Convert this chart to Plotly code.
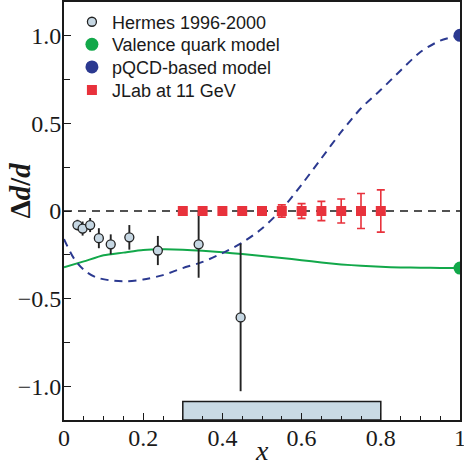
import plotly.graph_objects as go

# Hermes 1996-2000 data
hermes_x = [0.034, 0.047, 0.066, 0.088, 0.118, 0.165, 0.237, 0.340, 0.446]
hermes_y = [-0.08, -0.10, -0.08, -0.155, -0.19, -0.15, -0.225, -0.19, -0.606]
hermes_err = [0.03, 0.04, 0.04, 0.057, 0.057, 0.07, 0.083, 0.19, 0.42]

# JLab at 11 GeV projection
jlab_x = [0.30, 0.35, 0.40, 0.45, 0.50, 0.55, 0.60, 0.65, 0.70, 0.75, 0.80]
jlab_y = [0, 0, 0, 0, 0, 0, 0, 0, 0, 0, 0]
jlab_err = [0.005, 0.006, 0.008, 0.01, 0.018, 0.035, 0.042, 0.055, 0.068, 0.10, 0.12]

# Valence quark model curve
val_x = [0, 0.05, 0.1, 0.15, 0.2, 0.25, 0.3, 0.35, 0.4, 0.45, 0.5, 0.55, 0.6,
         0.65, 0.7, 0.75, 0.8, 0.85, 0.9, 0.95, 1.0]
val_y = [-0.32, -0.287, -0.252, -0.237, -0.222, -0.218, -0.22, -0.226, -0.235,
         -0.245, -0.256, -0.268, -0.28, -0.293, -0.304, -0.312, -0.318, -0.321,
         -0.323, -0.324, -0.325]

# pQCD-based model curve
pqcd_x = [0, 0.025, 0.05, 0.08, 0.12, 0.16, 0.2, 0.25, 0.3, 0.35, 0.4, 0.45,
          0.5, 0.55, 0.6, 0.65, 0.7, 0.75, 0.8, 0.85, 0.9, 0.95, 1.0]
pqcd_y = [-0.16, -0.27, -0.335, -0.377, -0.396, -0.40, -0.39, -0.365, -0.325,
          -0.29, -0.24, -0.18, -0.10, 0.01, 0.15, 0.30, 0.45, 0.585, 0.69,
          0.80, 0.905, 0.97, 1.0]

# kinematic coverage band
coverage_x = [0.3, 0.8]
coverage_top = -1.085

y_range = [-1.19, 1.19]
x_ticks = [0, 0.2, 0.4, 0.6, 0.8, 1]
x_ticktext = ["0", "0.2", "0.4", "0.6", "0.8", "1"]
y_ticks = [-1, -0.5, 0, 0.5, 1]
y_ticktext = ["\u22121.0", "\u22120.5", "0", "0.5", "1.0"]

GREEN = "#12a84a"
BLUE = "#2b3990"
RED = "#e8323c"
HERMES_FILL = "#c6d7e3"
INK = "#1a1a1a"

fig = go.Figure()

fig.add_shape(type="rect", x0=coverage_x[0], x1=coverage_x[1], y0=y_range[0],
              y1=coverage_top, fillcolor="#c9dae4",
              line=dict(color=INK, width=1.5), layer="below")
fig.add_hline(y=0, line=dict(color=INK, width=1.5, dash="8px,6px"),
              layer="below")

fig.add_trace(go.Scatter(x=val_x, y=val_y, mode="lines", showlegend=False,
                         line=dict(color=GREEN, width=2, shape="spline",
                                   smoothing=0.6)))
fig.add_trace(go.Scatter(x=pqcd_x, y=pqcd_y, mode="lines", showlegend=False,
                         line=dict(color=BLUE, width=2, dash="8px,6px",
                                   shape="spline", smoothing=0.8)))

fig.add_trace(go.Scatter(
    x=hermes_x, y=hermes_y, mode="markers", name="Hermes 1996-2000",
    legend="legend",
    marker=dict(symbol="circle", size=9, color=HERMES_FILL,
                line=dict(color="#222", width=1.3)),
    error_y=dict(type="data", array=hermes_err, color="#222", thickness=1.9,
                 width=0)))
fig.add_trace(go.Scatter(
    x=[val_x[-1]], y=[val_y[-1]], mode="markers", name="Valence quark model",
    legend="legend2",
    marker=dict(symbol="circle", size=13, color=GREEN)))
fig.add_trace(go.Scatter(
    x=[pqcd_x[-1]], y=[pqcd_y[-1]], mode="markers", name="pQCD-based model",
    legend="legend3",
    marker=dict(symbol="circle", size=13, color=BLUE)))
fig.add_trace(go.Scatter(
    x=jlab_x, y=jlab_y, mode="markers", name="JLab at 11 GeV",
    legend="legend4",
    marker=dict(symbol="square", size=10, color=RED),
    error_y=dict(type="data", array=jlab_err, color=RED, thickness=1.6,
                 width=4)))

axis_common = dict(showgrid=False, zeroline=False, showline=True,
                   linecolor=INK, linewidth=2, mirror=True, automargin=False,
                   ticks="inside", ticklen=7, tickwidth=1.3, tickcolor=INK,
                   ticklabeloverflow="allow",
                   tickfont=dict(family="Liberation Serif", size=24,
                                 color=INK))

fig.update_xaxes(range=[0, 1], tickvals=x_ticks, ticktext=x_ticktext,
                 ticklabelstandoff=-5,
                 minor=dict(dtick=0.05, ticks="inside", ticklen=4,
                            tickcolor=INK, tickwidth=1.2),
                 **axis_common)
fig.update_yaxes(range=y_range, tickvals=y_ticks, ticktext=y_ticktext,
                 ticklabelstandoff=-4,
                 minor=dict(dtick=0.25, ticks="inside", ticklen=6,
                            tickcolor=INK, tickwidth=1.2),
                 **axis_common)

fig.add_annotation(text="<b>\u0394<i>d</i>/<i>d</i></b>", textangle=-90,
                   xref="paper", yref="paper", x=-0.11, y=0.55,
                   xanchor="center", yanchor="middle", showarrow=False,
                   font=dict(family="Liberation Serif", size=29, color=INK))
fig.add_annotation(text="<i>x</i>", xref="paper", yref="paper",
                   x=0.5, y=-0.072, xanchor="center", yanchor="middle",
                   showarrow=False,
                   font=dict(family="Liberation Serif", size=28, color=INK))

legend_style = dict(x=0.02, xanchor="left", yanchor="middle",
                    bgcolor="rgba(0,0,0,0)", borderwidth=0, itemwidth=30,
                    font=dict(family="Liberation Sans", size=18, color=INK))

fig.update_layout(
    width=464, height=467,
    margin=dict(l=64, r=4, t=2, b=47, autoexpand=False),
    paper_bgcolor="white", plot_bgcolor="white",
    legend=dict(y=0.952, **legend_style),
    legend2=dict(y=0.898, **legend_style),
    legend3=dict(y=0.844, **legend_style),
    legend4=dict(y=0.789, **legend_style),
)

fig.write_html("out.html", config={"displayModeBar": False},
               post_script="document.body.style.margin='0px';")
